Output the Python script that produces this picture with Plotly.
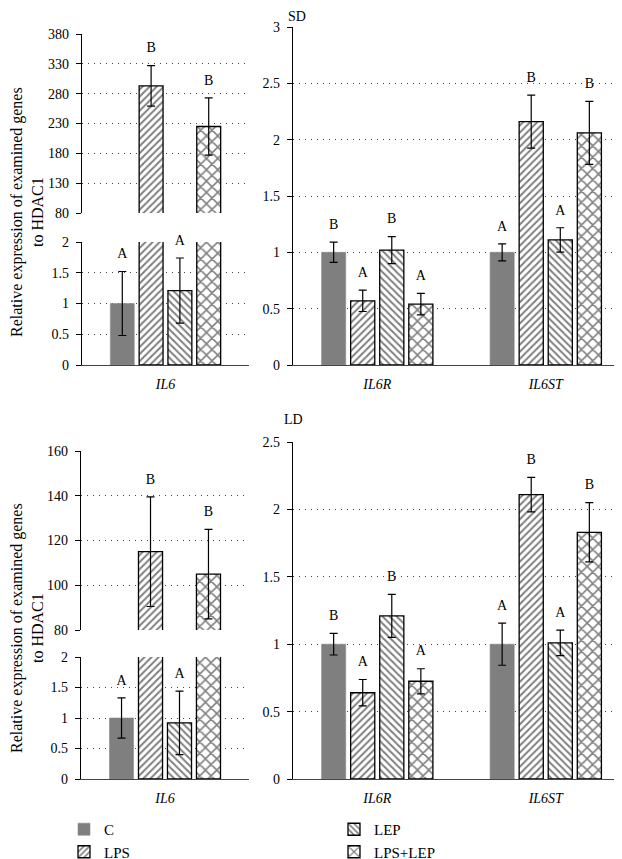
import plotly.graph_objects as go

# ---------------- data ----------------
groups = ["C", "LPS", "LEP", "LPS+LEP"]
left_genes = ["IL6"]
right_genes = ["IL6R", "IL6ST"]

# SD
sd_IL6_mean = [1.0, 293, 1.21, 225]
sd_IL6_err = [0.52, 34, 0.53, 48]
sd_IL6_letters = ["A", "B", "A", "B"]
sd_IL6R_mean = [1.0, 0.57, 1.02, 0.54]
sd_IL6R_err = [0.09, 0.095, 0.12, 0.095]
sd_IL6R_letters = ["B", "A", "B", "A"]
sd_IL6ST_mean = [1.0, 2.16, 1.11, 2.06]
sd_IL6ST_err = [0.075, 0.235, 0.108, 0.28]
sd_IL6ST_letters = ["A", "B", "A", "B"]

# LD
ld_IL6_mean = [1.0, 115, 0.92, 105]
ld_IL6_err = [0.33, 24.5, 0.52, 20]
ld_IL6_letters = ["A", "B", "A", "B"]
ld_IL6R_mean = [1.0, 0.64, 1.21, 0.725]
ld_IL6R_err = [0.08, 0.098, 0.16, 0.093]
ld_IL6R_letters = ["B", "A", "B", "A"]
ld_IL6ST_mean = [1.0, 2.11, 1.01, 1.83]
ld_IL6ST_err = [0.156, 0.128, 0.095, 0.22]
ld_IL6ST_letters = ["A", "B", "A", "B"]

sd_lower_ticks = [0, 0.5, 1, 1.5, 2]
sd_upper_ticks = [80, 130, 180, 230, 280, 330, 380]
sd_right_ticks = [0, 0.5, 1, 1.5, 2, 2.5, 3]
ld_lower_ticks = [0, 0.5, 1, 1.5, 2]
ld_upper_ticks = [80, 100, 120, 140, 160]
ld_right_ticks = [0, 0.5, 1, 1.5, 2, 2.5]

y_title = "Relative expression of examined genes<br>to HDAC1"

# ---------------- style ----------------
W, H = 622, 859
OX, OY = 8, 8          # page body margin: positions below are given in window pixels
FONT = "Liberation Serif, Times New Roman, serif"
BARGAP = 0.31
GROUPGAP = 0.17
N = len(groups)
SLOT = (1 - BARGAP) / N
BAR_W = SLOT * (1 - GROUPGAP)
OFFSETS = [(i - (N - 1) / 2) * SLOT for i in range(N)]

markers = {
    "C": dict(color="#7f7f7f", line=dict(color="#8a8a8a", width=0.6)),
    "LPS": dict(color="white", line=dict(color="black", width=1.3),
                pattern=dict(shape="/", fgcolor="black", bgcolor="white", size=5, solidity=0.4)),
    "LEP": dict(color="white", line=dict(color="black", width=1.3),
                pattern=dict(shape="\\", fgcolor="black", bgcolor="white", size=5, solidity=0.4)),
    "LPS+LEP": dict(color="white", line=dict(color="black", width=1.3),
                    pattern=dict(shape="x", fgcolor="black", bgcolor="white", size=8, solidity=0.35)),
}
legend_of = {"C": "legend", "LPS": "legend", "LEP": "legend2", "LPS+LEP": "legend2"}


def px(x):
    return (x - OX) / W


def py(y):
    return 1 - (y - OY) / H


def xd(a, b):
    return [px(a), min(px(b), 1.0)]


def yd(top, bottom):
    return [py(bottom), py(top)]


fig = go.Figure()


def add_panel(xa, ya, means, errs, letters, show_if=None, showlegend=False):
    """means/errs/letters: list per gene of lists per group"""
    for i, g in enumerate(groups):
        xs = [gi + OFFSETS[i] for gi in range(len(means))]
        ys = [m[i] for m in means]
        es = [e[i] for e in errs]
        txt = [l[i] if (show_if is None or show_if(m[i])) else "" for l, m in zip(letters, means)]
        fig.add_trace(go.Bar(
            x=xs, y=ys, width=BAR_W, name=g, marker=markers[g],
            error_y=dict(type="data", array=es, color="black", thickness=1.2, width=4),
            xaxis=xa, yaxis=ya, showlegend=showlegend, legend=legend_of[g],
            hoverinfo="skip",
        ))
        fig.add_trace(go.Scatter(
            x=[x for x, t in zip(xs, txt) if t],
            y=[m + e for m, e, t in zip(ys, es, txt) if t],
            text=[t for t in txt if t],
            mode="markers+text", marker=dict(size=14, opacity=0),
            textposition="top center", textfont=dict(family=FONT, size=14, color="black"),
            xaxis=xa, yaxis=ya, showlegend=False, hoverinfo="skip", cliponaxis=False,
        ))


def yaxis_style(domain, rng, ticks, anchor):
    return dict(domain=domain, range=rng, tickvals=ticks, anchor=anchor,
                showline=True, linecolor="black", linewidth=1.2,
                ticks="outside", ticklen=5, tickcolor="black", tickwidth=1.2,
                showgrid=True, gridcolor="#444", griddash="1px,5px", gridwidth=1.2,
                zeroline=False, ticklabelstandoff=4,
                tickfont=dict(family=FONT, size=14, color="black"))


def xaxis_style(domain, rng, genes, anchor, visible=True):
    d = dict(domain=domain, range=rng, anchor=anchor, zeroline=False, showgrid=False)
    if not visible:
        d.update(visible=False)
        return d
    d.update(tickvals=list(range(len(genes))), ticktext=genes, showline=True,
             linecolor="#444", linewidth=1.3, ticks="", ticklabelstandoff=6,
             tickfont=dict(family=FONT, size=14, color="black", style="italic"))
    return d


rows = [
    dict(tag="SD", left_x=(82, 249), upper=(34, 213), lower=(242, 365), right_x=(293, 630), right_y=(27, 365),
         il6=(sd_IL6_mean, sd_IL6_err, sd_IL6_letters),
         il6r=(sd_IL6R_mean, sd_IL6R_err, sd_IL6R_letters),
         il6st=(sd_IL6ST_mean, sd_IL6ST_err, sd_IL6ST_letters),
         up_ticks=sd_upper_ticks, lo_ticks=sd_lower_ticks, r_ticks=sd_right_ticks,
         title_xy=(297, 16), ytitle_y=212, legend=True),
    dict(tag="LD", left_x=(81, 249), upper=(451, 630), lower=(657, 779), right_x=(293, 630), right_y=(442, 779),
         il6=(ld_IL6_mean, ld_IL6_err, ld_IL6_letters),
         il6r=(ld_IL6R_mean, ld_IL6R_err, ld_IL6R_letters),
         il6st=(ld_IL6ST_mean, ld_IL6ST_err, ld_IL6ST_letters),
         up_ticks=ld_upper_ticks, lo_ticks=ld_lower_ticks, r_ticks=ld_right_ticks,
         title_xy=(293, 419), ytitle_y=628, legend=False),
]

layout = {}
annotations = []
for r, row in enumerate(rows):
    k = 3 * r
    ua, la, ra = k + 1, k + 2, k + 3
    lo_max = row["lo_ticks"][-1]
    # upper left (broken axis top)
    add_panel(f"x{ua}", f"y{ua}", [row["il6"][0]], [row["il6"][1]], [row["il6"][2]],
              show_if=lambda v, lm=lo_max: v > lm)
    # lower left
    add_panel(f"x{la}", f"y{la}", [row["il6"][0]], [row["il6"][1]], [row["il6"][2]],
              show_if=lambda v, lm=lo_max: v <= lm, showlegend=row["legend"])
    # right
    add_panel(f"x{ra}", f"y{ra}", [row["il6r"][0], row["il6st"][0]],
              [row["il6r"][1], row["il6st"][1]], [row["il6r"][2], row["il6st"][2]])

    def nm(base, i):
        return base if i == 1 else f"{base}{i}"

    layout[nm("xaxis", ua)] = xaxis_style(xd(*row["left_x"]), [-0.5, 0.5], left_genes, f"y{ua}", visible=False)
    layout[nm("yaxis", ua)] = yaxis_style(yd(*row["upper"]), [row["up_ticks"][0], row["up_ticks"][-1]],
                                          row["up_ticks"], f"x{ua}")
    layout[nm("xaxis", la)] = xaxis_style(xd(*row["left_x"]), [-0.5, 0.5], left_genes, f"y{la}")
    layout[nm("yaxis", la)] = yaxis_style(yd(*row["lower"]), [row["lo_ticks"][0], row["lo_ticks"][-1]],
                                          row["lo_ticks"], f"x{la}")
    layout[nm("xaxis", ra)] = xaxis_style(xd(*row["right_x"]), [-0.5, 1.5], right_genes, f"y{ra}")
    layout[nm("yaxis", ra)] = yaxis_style(yd(*row["right_y"]), [row["r_ticks"][0], row["r_ticks"][-1]],
                                          row["r_ticks"], f"x{ra}")

    tx, ty = row["title_xy"]
    annotations.append(dict(text=row["tag"], x=px(tx), y=py(ty), xref="paper", yref="paper",
                            showarrow=False, font=dict(family=FONT, size=14, color="black"),
                            xanchor="center", yanchor="middle"))
    annotations.append(dict(text=y_title, x=px(27), y=py(row["ytitle_y"]), xref="paper", yref="paper",
                            showarrow=False, textangle=-90, font=dict(family=FONT, size=16, color="black"),
                            xanchor="center", yanchor="middle"))

fig.update_layout(
    width=W, height=H, margin=dict(l=0, r=0, t=0, b=0, autoexpand=False),
    paper_bgcolor="white", plot_bgcolor="white",
    barmode="overlay",
    annotations=annotations,
    font=dict(family=FONT, size=14, color="black"),
    legend=dict(x=px(64), y=py(813), xanchor="left", yanchor="top", orientation="v",
                font=dict(family=FONT, size=15, color="black"), bgcolor="rgba(0,0,0,0)", itemwidth=30),
    legend2=dict(x=px(334), y=py(813), xanchor="left", yanchor="top", orientation="v",
                 font=dict(family=FONT, size=15, color="black"), bgcolor="rgba(0,0,0,0)", itemwidth=30),
    **layout,
)

fig.write_html("out.html")
